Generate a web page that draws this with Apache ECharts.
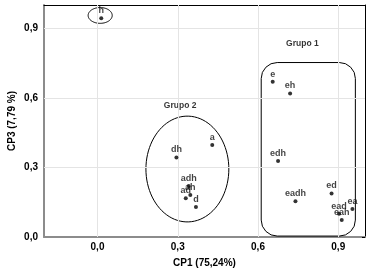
<!DOCTYPE html>
<html>
<head>
<meta charset="utf-8">
<script src="https://cdn.jsdelivr.net/npm/echarts@6/dist/echarts.min.js"></script>
<style>
  html, body { margin: 0; padding: 0; background: #fff; }
  #chart { width: 372px; height: 275px; }
</style>
</head>
<body>
<div id="chart"></div>
<script>
// tratamentos e coordenadas (CP1, CP3)
const names = ['h', 'e', 'eh', 'edh', 'eadh', 'ed', 'ea', 'ead', 'eah', 'a', 'dh', 'adh', 'ah', 'ad', 'd'];
const cp1 = [0.014, 0.655, 0.72, 0.675, 0.74, 0.875, 0.953, 0.903, 0.913, 0.429, 0.295, 0.341, 0.347, 0.330, 0.368];
const cp3 = [0.943, 0.669, 0.619, 0.328, 0.154, 0.188, 0.121, 0.100, 0.073, 0.397, 0.343, 0.220, 0.181, 0.167, 0.129];
const tickValues = [0, 0.3, 0.6, 0.9];

// grupos: elipses [cx, cy, rx, ry] e caixa [x0, y0, x1, y1]
const ellipses = [[0.01, 0.955, 0.045, 0.034], [0.336, 0.293, 0.155, 0.228]];
const groupBox = [0.612, 0.004, 0.964, 0.752];
const groupLabels = [['Grupo 1', 0.766, 0.832], ['Grupo 2', 0.309, 0.565]];

const fmt = v => v.toFixed(1).replace('.', ',');
const font = 'Liberation Sans, Arial, sans-serif';

const chart = echarts.init(document.getElementById('chart'));

const points = names.map((n, i) => ({ name: n, value: [cp1[i], cp3[i]] }));

const option = {
    animation: false,
    grid: { left: 44, right: 7, top: 5, bottom: 38, containLabel: false, outerBoundsMode: 'none' },
    xAxis: [
        {
            type: 'value', min: -0.2, max: 1.0, position: 'bottom',
            name: 'CP1 (75,24%)', nameLocation: 'middle', nameGap: 21, nameMoveOverlap: false,
            nameTextStyle: { fontFamily: font, fontWeight: 'bold', fontSize: 10, color: '#000' },
            axisLine: { show: true, onZero: false, lineStyle: { color: '#8c8c8c', width: 2 } },
            axisTick: { show: true, inside: true, length: 3, customValues: tickValues, lineStyle: { color: '#8c8c8c' } },
            axisLabel: { customValues: tickValues, formatter: fmt, fontFamily: font, fontWeight: 'bold', fontSize: 10, color: '#000', margin: 5 },
            splitLine: { show: false }
        },
        {
            type: 'value', min: -0.2, max: 1.0, position: 'top',
            axisLine: { show: true, onZero: false, lineStyle: { color: '#000', width: 1 } },
            axisTick: { show: true, inside: true, length: 3, customValues: tickValues, lineStyle: { color: '#000' } },
            axisLabel: { show: false },
            splitLine: { show: false }
        }
    ],
    yAxis: [
        {
            type: 'value', min: 0, max: 1.0, position: 'left',
            name: 'CP3 (7,79 %)', nameLocation: 'middle', nameGap: 27, nameMoveOverlap: false,
            nameTextStyle: { fontFamily: font, fontWeight: 'bold', fontSize: 10, color: '#000' },
            axisLine: { show: true, onZero: false, lineStyle: { color: '#8c8c8c', width: 2 } },
            axisTick: { show: true, inside: true, length: 3, customValues: tickValues, lineStyle: { color: '#8c8c8c' } },
            axisLabel: { customValues: tickValues, formatter: fmt, fontFamily: font, fontWeight: 'bold', fontSize: 10, color: '#000', margin: 6 },
            splitLine: { show: false }
        },
        {
            type: 'value', min: 0, max: 1.0, position: 'right',
            axisLine: { show: true, onZero: false, lineStyle: { color: '#000', width: 1 } },
            axisTick: { show: true, inside: true, length: 3, customValues: tickValues, lineStyle: { color: '#000' } },
            axisLabel: { show: false },
            splitLine: { show: false }
        }
    ],
    series: [
        {
            // linhas de grade
            type: 'scatter', data: [], silent: true,
            markLine: {
                silent: true, symbol: 'none', label: { show: false },
                lineStyle: { color: '#e4e4e4', width: 1, type: 'solid' },
                data: tickValues.map(v => ({ xAxis: v })).concat(tickValues.slice(1).map(v => ({ yAxis: v })))
            }
        },
        {
            // elipses dos grupos
            type: 'custom', clip: false, silent: true,
            data: ellipses,
            renderItem: (params, api) => {
                const cx = api.value(0), cy = api.value(1), rx = api.value(2), ry = api.value(3);
                const pts = [];
                for (let k = 0; k < 90; k++) {
                    const t = k / 90 * Math.PI * 2;
                    pts.push(api.coord([cx + rx * Math.cos(t), cy + ry * Math.sin(t)]));
                }
                return { type: 'polygon', shape: { points: pts }, style: { fill: 'none', stroke: '#000', lineWidth: 1 } };
            }
        },
        {
            // caixa do grupo 1
            type: 'custom', clip: false, silent: true,
            data: [groupBox],
            renderItem: (params, api) => {
                const p0 = api.coord([api.value(0), api.value(3)]);
                const p1 = api.coord([api.value(2), api.value(1)]);
                return {
                    type: 'rect',
                    shape: { x: p0[0], y: p0[1], width: p1[0] - p0[0], height: p1[1] - p0[1], r: 16 },
                    style: { fill: 'none', stroke: '#000', lineWidth: 1 }
                };
            }
        },
        {
            // rótulos dos grupos
            type: 'scatter', symbolSize: 0, silent: true,
            data: groupLabels.map(g => ({ name: g[0], value: [g[1], g[2]] })),
            label: { show: true, position: 'inside', formatter: '{b}', fontFamily: font, fontWeight: 'bold', fontSize: 8.5, color: '#000' }
        },
        {
            type: 'scatter', symbol: 'circle', symbolSize: 4,
            itemStyle: { color: '#000' },
            data: points,
            label: { show: true, position: 'top', distance: 1, formatter: '{b}', fontFamily: font, fontWeight: 'bold', fontSize: 9, color: '#111' },
            z: 5
        }
    ]
};

chart.setOption(option);
</script>
</body>
</html>
